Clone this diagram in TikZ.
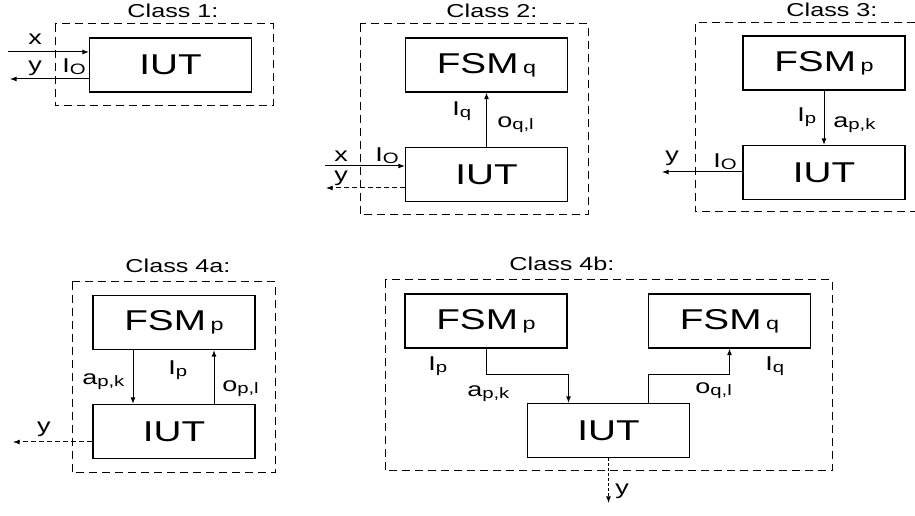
\documentclass[tikz,border=0pt]{standalone}
\usepackage{fontspec}
\setmainfont{Liberation Sans}[FakeStretch=1.35]
\usetikzlibrary{arrows.meta}

\newcommand{\fsub}[1]{\hspace{3.5pt}{\fontsize{13}{13}\selectfont #1}}
\newcommand{\lsub}[1]{\raisebox{-1.5pt}{\fontsize{11.3}{11.3}\selectfont #1}}

\tikzset{
  blk/.style={draw, line width=0.8pt, minimum width=121.5pt, minimum height=40.5pt, inner sep=0pt, font=\fontsize{21.5}{21.5}\selectfont},
  grp/.style={draw, line width=0.75pt, dash pattern=on 6pt off 3.75pt},
  ttl/.style={font=\fontsize{14}{14}\selectfont, inner sep=0pt},
  lbl/.style={font=\fontsize{15}{15}\selectfont, inner sep=0pt},
  arr/.style={line width=0.75pt, -{Latex[length=5pt,width=3.75pt]}},
  ydash/.style={dash pattern=on 3.75pt off 2.25pt},
  ydot/.style={dash pattern=on 2.25pt off 1.5pt}
}

\begin{document}
\begin{tikzpicture}[x=0.75pt,y=0.75pt,yscale=-1,xscale=1]
\useasboundingbox (0,0) rectangle (915,516);

%Shape: Rectangle [class 1]
\draw[grp] (55,24) rectangle (273,106);
\node[blk] (iut1) at (170.5,65) {IUT};
\coordinate (x1in) at (8,52);
\coordinate (y1out) at (10,79);
%Straight Lines
\draw[arr] (x1in) -- (x1in -| iut1.west);
\draw[arr] (y1out -| iut1.west) -- (y1out);

%Shape: Rectangle [class 2]
\draw[grp] (360,24) rectangle (588,215);
\node[blk] (fsm2) at (486.5,65) {FSM\fsub{q}};
\node[blk] (iut2) at (486.5,174.5) {IUT};
\coordinate (x2in) at (325,166);
\coordinate (y2out) at (326,188);
%Straight Lines
\draw[arr] (iut2.north) -- (fsm2.south);
\draw[arr] (x2in) -- (x2in -| iut2.west);
\draw[arr,ydash] (y2out -| iut2.west) -- (y2out);

%Shape: Rectangle [class 3]
\draw[grp] (915,23) -| (695,212) -- (915,212);
\node[blk] (fsm3) at (824,63) {FSM\fsub{p}};
\node[blk] (iut3) at (824,172.5) {IUT};
\coordinate (y3out) at (662,172);
%Straight Lines
\draw[arr] (fsm3.south) -- (iut3.north);
\draw[arr] (y3out -| iut3.west) -- (y3out);

%Shape: Rectangle [class 4a]
\draw[grp] (72,282) rectangle (275,473);
\node[blk] (fsm4a) at (174,322.5) {FSM\fsub{p}};
\node[blk] (iut4a) at (174,431.5) {IUT};
\coordinate (y4aout) at (13,442);
%Straight Lines
\draw[arr] ([xshift=-30.75pt]fsm4a.south) -- ([xshift=-30.75pt]iut4a.north);
\draw[arr] ([xshift=30pt]iut4a.north) -- ([xshift=30pt]fsm4a.south);
\draw[arr,ydash] (y4aout -| iut4a.west) -- (y4aout);

%Shape: Rectangle [class 4b]
\draw[grp] (385,280) rectangle (832,471);
\node[blk] (fsm4bp) at (486,321) {FSM\fsub{p}};
\node[blk] (fsm4bq) at (729.5,321) {FSM\fsub{q}};
\node[blk] (iut4b) at (608.5,430.5) {IUT};
\coordinate (knee4b) at (0,375);
\coordinate (y4bout) at (608.5,503);
%Straight Lines
\draw[arr] (fsm4bp.south) -- (fsm4bp.south |- knee4b) -| ([xshift=-30pt]iut4b.north);
\draw[arr] ([xshift=30pt]iut4b.north) |- (knee4b -| fsm4bq.south) -- (fsm4bq.south);
\draw[arr,ydot] (iut4b.south) -- (y4bout);

% Text Node
\node[ttl,anchor=base] (ttl1) at (173,18) {Class 1:};
\node[ttl,anchor=base] (ttl2) at (492,18) {Class 2:};
\node[ttl,anchor=base] (ttl3) at (832,17) {Class 3:};
\node[ttl,anchor=base] (ttl4a) at (178,273) {Class 4a:};
\node[ttl,anchor=base] (ttl4b) at (562,271) {Class 4b:};
% Text Node
\node[lbl,anchor=base] (x1lbl) at (35,45) {x};
\node[lbl,anchor=base] (y1lbl) at (35,72) {y};
\node[lbl,anchor=base west] (io1lbl) at (62,73) {I\lsub{O}};
% Text Node
\node[lbl,anchor=base] (x2lbl) at (341,162) {x};
\node[lbl,anchor=base] (y2lbl) at (341,182) {y};
\node[lbl,anchor=base west] (io2lbl) at (375,162) {I\lsub{O}};
\node[lbl,anchor=base west] (iq2lbl) at (452,116) {I\lsub{q}};
\node[lbl,anchor=base west] (oq2lbl) at (497,128) {o\lsub{q,l}};
% Text Node
\node[lbl,anchor=base west] (ip3lbl) at (797,122) {I\lsub{p}};
\node[lbl,anchor=base west] (ap3lbl) at (833,128) {a\lsub{p,k}};
\node[lbl,anchor=base] (y3lbl) at (672,162) {y};
\node[lbl,anchor=base west] (io3lbl) at (713,168) {I\lsub{O}};
% Text Node
\node[lbl,anchor=base west] (ap4albl) at (82,385) {a\lsub{p,k}};
\node[lbl,anchor=base west] (ip4albl) at (168,375) {I\lsub{p}};
\node[lbl,anchor=base west] (op4albl) at (222,392) {o\lsub{p,l}};
\node[lbl,anchor=base] (y4albl) at (44,433) {y};
% Text Node
\node[lbl,anchor=base west] (ip4blbl) at (428,371) {I\lsub{p}};
\node[lbl,anchor=base west] (ap4blbl) at (467,397) {a\lsub{p,k}};
\node[lbl,anchor=base west] (oq4blbl) at (695,394) {o\lsub{q,l}};
\node[lbl,anchor=base west] (iq4blbl) at (765,371) {I\lsub{q}};
\node[lbl,anchor=base] (y4blbl) at (622,495) {y};
\end{tikzpicture}
\end{document}
